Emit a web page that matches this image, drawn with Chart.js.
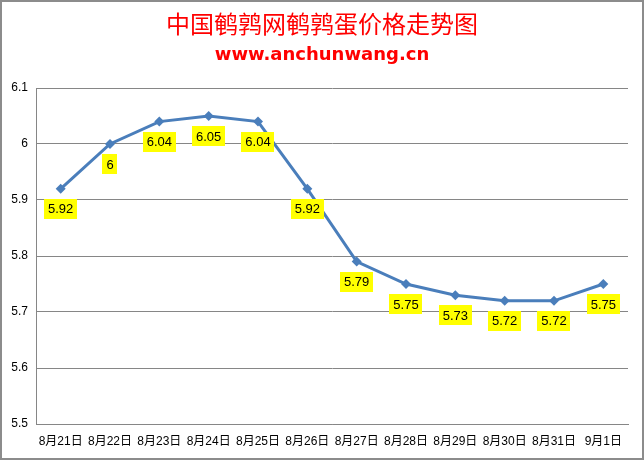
<!DOCTYPE html>
<html>
<head>
<meta charset="utf-8">
<script src="https://cdn.jsdelivr.net/npm/chart.js@4/dist/chart.umd.min.js"></script>
<style>
  html, body { margin: 0; padding: 0; background: #fff; }
  #wrap { width: 644px; height: 460px; position: relative; }
</style>
</head>
<body>
<div id="wrap"><canvas id="priceChart" width="644" height="460"></canvas></div>
<script>
const dates = ['8月21日', '8月22日', '8月23日', '8月24日', '8月25日', '8月26日', '8月27日', '8月28日', '8月29日', '8月30日', '8月31日', '9月1日'];
const prices = [5.92, 6, 6.04, 6.05, 6.04, 5.92, 5.79, 5.75, 5.73, 5.72, 5.72, 5.75];
const titleText = '中国鹌鹑网鹌鹑蛋价格走势图';
const siteText = 'www.anchunwang.cn';

const labelFont = '12px "Liberation Sans", "Noto Sans CJK SC", sans-serif';

// title, frame and yellow value boxes
const decorPlugin = {
    id: 'decor',
    beforeDraw(chart) {
        const ctx = chart.ctx;
        ctx.save();
        ctx.fillStyle = '#fff';
        ctx.fillRect(0, 0, chart.width, chart.height);
        ctx.strokeStyle = '#8c8c8c';
        ctx.lineWidth = 2;
        ctx.strokeRect(1, 1, chart.width - 2, chart.height - 2);
        ctx.fillStyle = '#ff0000';
        ctx.textAlign = 'center';
        ctx.textBaseline = 'middle';
        ctx.font = '24px "Noto Sans CJK SC", sans-serif';
        ctx.fillText(titleText, chart.width / 2, 24);
        ctx.font = 'bold 18px "DejaVu Sans", sans-serif';
        ctx.fillText(siteText, chart.width / 2, 55);
        ctx.restore();
    },
    afterDatasetsDraw(chart) {
        const ctx = chart.ctx;
        const meta = chart.getDatasetMeta(0);
        ctx.save();
        ctx.font = '13px "Liberation Sans", sans-serif';
        ctx.textAlign = 'center';
        ctx.textBaseline = 'middle';
        meta.data.forEach((pt, i) => {
            const txt = String(prices[i]);
            const w = ctx.measureText(txt).width + 8;
            const cy = pt.y + 20;
            ctx.fillStyle = '#ffff00';
            ctx.fillRect(Math.round(pt.x - w / 2), Math.round(cy - 10), Math.round(w), 20);
            ctx.fillStyle = '#000';
            ctx.fillText(txt, pt.x, cy + 1);
        });
        ctx.restore();
    }
};

new Chart(document.getElementById('priceChart'), {
    type: 'line',
    data: {
        labels: dates,
        datasets: [{
            data: prices,
            borderColor: '#4a7ebb',
            backgroundColor: '#4a7ebb',
            borderWidth: 3,
            pointStyle: 'rectRot',
            pointRadius: 5,
            pointBorderWidth: 0,
            tension: 0
        }]
    },
    options: {
        responsive: false,
        animation: false,
        layout: { padding: { top: 88, right: 16, left: 0, bottom: 0 } },
        plugins: { legend: { display: false }, tooltip: { enabled: false } },
        scales: {
            x: {
                offset: true,
                grid: { display: false, drawTicks: false },
                border: { color: '#868686', width: 1 },
                ticks: { color: '#000', font: { size: 12, family: '"Liberation Sans", "Noto Sans CJK SC", sans-serif' }, padding: 10, maxRotation: 0, autoSkip: false },
                afterFit(s) { s.height = 36; }
            },
            y: {
                min: 5.5,
                max: 6.1,
                grid: { color: '#868686', drawTicks: false },
                border: { color: '#868686', width: 1 },
                ticks: { stepSize: 0.1, color: '#000', font: { size: 12, family: '"Liberation Sans", sans-serif' }, padding: 8,
                    callback: v => String(Math.round(v * 10) / 10) },
                afterFit(s) { s.width = 36; }
            }
        }
    },
    plugins: [decorPlugin]
});
</script>
</body>
</html>
